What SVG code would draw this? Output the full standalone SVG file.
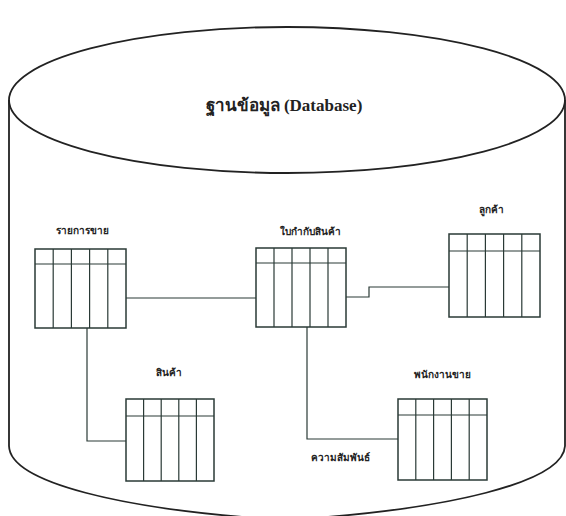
<svg xmlns="http://www.w3.org/2000/svg" width="566" height="516" viewBox="0 0 566 516">
<style>
.cyl{fill:none;stroke:#222;stroke-width:1.8}
.tb{fill:#fff;stroke:#2a3a36;stroke-width:1.5}
.ln{fill:none;stroke:#2a3a36;stroke-width:1.2}
.lbl{font-family:"Liberation Sans","Noto Sans",sans-serif;font-size:10px;font-weight:bold;fill:#222;text-anchor:middle}
.title{font-family:"Liberation Serif",serif;font-size:17px;font-weight:bold;fill:#222;text-anchor:middle}
</style>
<rect width="566" height="516" fill="#fff"/>
<g id="cylinder">
<ellipse class="cyl" cx="287" cy="100" rx="278" ry="73"/>
<path class="cyl" d="M9,100 L9,446 C10,482 120,510 285,520 C450,510 563,482 565,446 L565,100"/>
<text class="title" x="284" y="111">ฐานข้อมูล (Database)</text>
</g>
<g id="connectors">
<path class="ln" d="M126,298 H256"/>
<path class="ln" d="M346,297 H369 V287 H449"/>
<path class="ln" d="M87,328 V441 H126"/>
<path class="ln" d="M307,327 V439 H398"/>
<text class="lbl" x="340" y="461">ความสัมพันธ์</text>
</g>
<g id="t-sales">
<text class="lbl" x="82" y="234">รายการขาย</text>
<rect class="tb" x="35" y="249" width="91" height="79"/>
<path class="ln" d="M35,264 H126 M53.2,249 V328 M71.4,249 V328 M89.6,249 V328 M107.8,249 V328"/>
</g>
<g id="t-invoice">
<text class="lbl" x="310" y="235">ใบกำกับสินค้า</text>
<rect class="tb" x="256" y="248" width="90" height="79"/>
<path class="ln" d="M256,263 H346 M274,248 V327 M292,248 V327 M310,248 V327 M328,248 V327"/>
</g>
<g id="t-customer">
<text class="lbl" x="491" y="213">ลูกค้า</text>
<rect class="tb" x="449" y="234" width="91" height="83"/>
<path class="ln" d="M449,251 H540 M467.2,234 V317 M485.4,234 V317 M503.6,234 V317 M521.8,234 V317"/>
</g>
<g id="t-product">
<text class="lbl" x="169" y="376">สินค้า</text>
<rect class="tb" x="126" y="399" width="88" height="82"/>
<path class="ln" d="M126,416 H214 M143.6,399 V481 M161.2,399 V481 M178.8,399 V481 M196.4,399 V481"/>
</g>
<g id="t-salesperson">
<text class="lbl" x="442" y="378">พนักงานขาย</text>
<rect class="tb" x="398" y="399" width="89" height="81"/>
<path class="ln" d="M398,415 H487 M415.8,399 V480 M433.6,399 V480 M451.4,399 V480 M469.2,399 V480"/>
</g>
</svg>
